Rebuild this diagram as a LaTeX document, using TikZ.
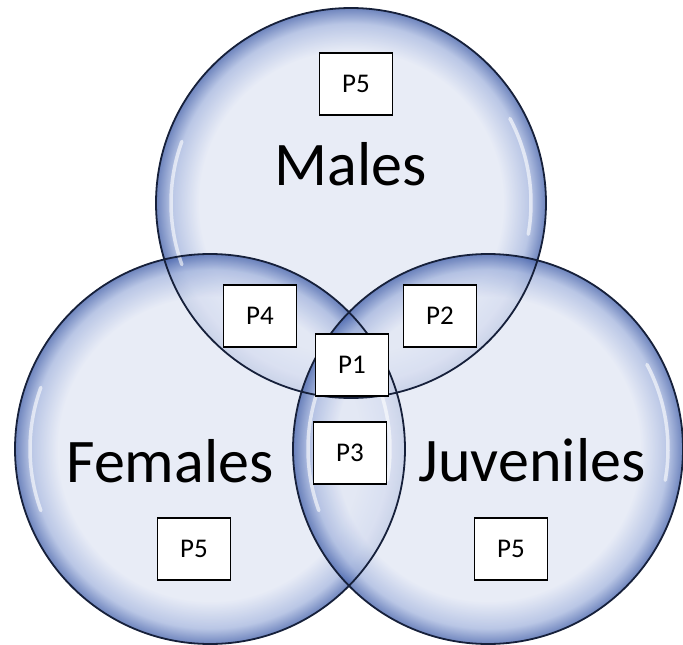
\documentclass[tikz,border=0pt]{standalone}
\usepackage{fontspec}
\setmainfont{Carlito}
\definecolor{bubin}{HTML}{E2E7F4}
\definecolor{bubmid}{HTML}{A8B8DF}
\definecolor{bubout}{HTML}{4A66AD}
\definecolor{rimline}{HTML}{16203A}
\pgfdeclareradialshading{bubble}{\pgfpoint{0bp}{0bp}}{color(0bp)=(bubin); color(19.5bp)=(bubin); color(23bp)=(bubmid); color(25bp)=(bubout); color(50bp)=(bubout)}
\tikzset{
  bubblefill/.style={shading=bubble, fill opacity=0.8},
  rim/.style={draw=rimline, line width=1.8pt},
  gloss/.style={draw=white, line width=3.5pt, line cap=round, opacity=0.6},
  pbox/.style={draw=black, line width=1.6pt, fill=white, minimum width=73pt, minimum height=62pt, inner sep=0pt, font=\fontsize{27}{30}\selectfont},
  bigtext/.style={anchor=base, inner sep=0pt, font=\fontsize{62}{70}\selectfont}
}
\begin{document}
\begin{tikzpicture}[x=1pt,y=-1pt]
\useasboundingbox (0,0) rectangle (683,645);
% circle centres
\coordinate (cm) at (351,203);
\coordinate (cf) at (210,449);
\coordinate (cj) at (488,449);
% fills
\foreach \c in {cm,cf,cj}{
  \shade[bubblefill] (\c) circle (195);
}
% gloss highlights
\foreach \c in {cm,cf,cj}{
  \draw[gloss] (\c) ++(160:180) arc[start angle=160, end angle=200, radius=180];
  \draw[gloss] (\c) ++(-28:180) arc[start angle=-28, end angle=10, radius=180];
}
% outlines
\draw[rim] (cm) circle (195);
\draw[rim] (cf) circle (195);
\draw[rim] (cj) circle (195);
% labels
\node[bigtext] (males) at (351,185) {Males};
\node[bigtext] (females) at (170,482) {Females};
\node[bigtext] (juveniles) at (532,481) {Juveniles};
% boxes
\node[pbox] (p5m) at (356,84) {P5};
\node[pbox] (p4) at (260,316) {P4};
\node[pbox] (p2) at (440,316) {P2};
\node[pbox] (p1) at (352,365) {P1};
\node[pbox] (p3) at (350,453) {P3};
\node[pbox] (p5f) at (194,549) {P5};
\node[pbox] (p5j) at (511,549) {P5};
\end{tikzpicture}
\end{document}
